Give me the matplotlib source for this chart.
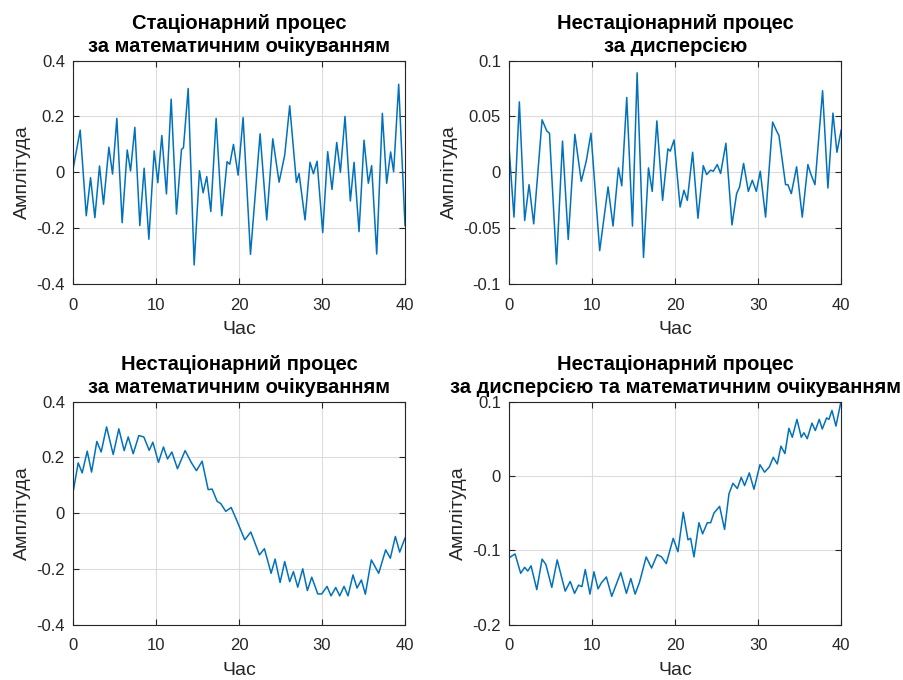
import matplotlib
matplotlib.use('Agg')
import matplotlib.pyplot as plt

# stationary process
t_stat = [0, 0.84, 1.57, 2.09, 2.61, 3.17, 3.65, 4.30, 4.74, 5.26, 5.90, 6.51, 6.91, 7.43, 8.03, 8.55, 9.12, 9.76,
          10.20, 10.68, 11.24, 11.81, 12.45, 13.05, 13.29, 13.86, 14.58, 15.22, 15.66, 16.10, 16.59, 17.23, 17.91,
          18.55, 18.88, 19.32, 19.88, 20.48, 21.37, 22.53, 23.33, 24.06, 24.82, 25.5, 26.10, 26.91, 27.23, 27.95,
          28.55, 28.96, 29.40, 30.08, 30.68, 31.20, 31.77, 32.21, 32.77, 33.41, 33.86, 34.46, 35.06, 35.58, 35.98,
          36.59, 37.27, 37.79, 38.27, 38.63, 39.24, 40]
a_stat = [0.015, 0.151, -0.155, -0.019, -0.162, 0.023, -0.114, 0.090, -0.006, 0.193, -0.180, 0.080, 0.005, 0.161,
          -0.190, 0.015, -0.239, 0.077, -0.037, 0.132, -0.077, 0.262, -0.149, 0.082, 0.088, 0.300, -0.331, 0.006,
          -0.073, -0.015, -0.140, 0.193, -0.155, 0.038, 0.029, 0.100, -0.010, 0.196, -0.293, 0.138, -0.170, 0.120,
          -0.035, 0.062, 0.238, -0.036, -0.004, -0.170, 0.036, -0.005, 0.040, -0.215, 0.074, -0.061, 0.107, 0.0,
          0.200, -0.102, 0.036, -0.212, 0.115, -0.039, 0.024, -0.292, 0.211, -0.039, 0.073, 0.002, 0.315, -0.19]

# non-stationary in variance
t_var = [0, 0.56, 1.21, 1.85, 2.38, 2.94, 3.95, 4.52, 4.84, 5.69, 6.41, 7.10, 7.90, 8.67, 9.27, 9.84, 10.89, 11.90,
         12.50, 13.15, 13.55, 14.15, 14.84, 15.40, 16.17, 16.77, 17.22, 17.78, 18.47, 19.11, 19.40, 19.85, 20.58,
         21.04, 21.45, 22.09, 22.73, 23.37, 23.78, 24.26, 24.58, 25.06, 25.46, 26.10, 26.83, 27.39, 27.75, 28.23,
         28.80, 29.28, 29.76, 30.24, 30.88, 31.73, 32.21, 32.49, 33.29, 33.57, 33.98, 34.62, 35.30, 35.98, 36.31,
         36.83, 37.75, 38.39, 39.00, 39.48, 40]
a_var = [0.019, -0.040, 0.063, -0.043, -0.011, -0.046, 0.047, 0.037, 0.035, -0.082, 0.028, -0.060, 0.034, -0.008,
         0.010, 0.035, -0.070, -0.013, -0.048, 0.004, -0.012, 0.067, -0.048, 0.089, -0.076, 0.004, -0.017, 0.046,
         -0.025, 0.021, 0.019, 0.029, -0.031, -0.016, -0.025, 0.018, -0.041, 0.006, -0.002, 0.002, 0.001, 0.007,
         -0.001, 0.026, -0.047, -0.019, -0.013, 0.008, -0.017, -0.007, -0.017, 0.001, -0.040, 0.045, 0.037, 0.033,
         -0.011, -0.011, -0.019, 0.005, -0.040, 0.007, -0.001, -0.011, 0.073, -0.014, 0.053, 0.018, 0.038]

# non-stationary in mean
t_mean = [0, 0.60, 1.08, 1.69, 2.21, 2.85, 3.37, 4.02, 4.82, 5.50, 6.14, 6.63, 7.23, 7.91, 8.51, 9.16, 9.60, 10.28,
          10.88, 11.37, 11.89, 12.57, 13.49, 14.26, 14.86, 15.54, 16.27, 16.75, 17.35, 17.79, 18.39, 19.04, 19.60,
          20.68, 21.41, 22.45, 23.05, 23.86, 24.34, 24.94, 25.50, 26.10, 26.55, 27.07, 27.67, 28.23, 28.76, 29.48,
          29.96, 30.60, 31.08, 31.65, 32.13, 32.65, 33.13, 33.73, 34.22, 34.74, 35.22, 35.94, 36.83, 37.67, 38.23,
          38.84, 39.36, 40]
a_mean = [0.078, 0.180, 0.144, 0.222, 0.147, 0.257, 0.219, 0.309, 0.210, 0.302, 0.224, 0.273, 0.213, 0.278, 0.273,
          0.225, 0.254, 0.182, 0.237, 0.194, 0.219, 0.159, 0.224, 0.180, 0.152, 0.186, 0.084, 0.086, 0.042, 0.034,
          0.006, 0.020, -0.018, -0.096, -0.068, -0.150, -0.128, -0.216, -0.165, -0.249, -0.174, -0.246, -0.210,
          -0.266, -0.200, -0.278, -0.230, -0.290, -0.290, -0.263, -0.297, -0.267, -0.297, -0.263, -0.297, -0.222,
          -0.269, -0.240, -0.291, -0.168, -0.216, -0.132, -0.162, -0.084, -0.140, -0.09]

# non-stationary in both variance and mean
t_both = [0, 0.69, 1.37, 1.85, 2.22, 2.62, 3.31, 3.95, 4.40, 5.12, 5.77, 6.73, 7.34, 7.86, 8.35, 8.75, 9.15, 9.72,
          10.20, 10.69, 11.09, 11.69, 12.34, 13.43, 14.11, 14.64, 15.16, 15.69, 16.49, 17.14, 17.82, 18.35, 18.91,
          19.75, 20.32, 20.96, 21.53, 21.85, 22.25, 22.85, 23.29, 23.86, 24.26, 24.66, 25.34, 25.94, 26.47, 26.95,
          27.47, 27.95, 28.35, 28.92, 29.48, 30.20, 30.76, 31.33, 31.81, 32.29, 32.73, 33.21, 33.69, 34.10, 34.66,
          35.18, 35.50, 35.90, 36.47, 36.87, 37.35, 37.71, 38.23, 38.51, 38.88, 39.36, 40]
a_both = [-0.110, -0.105, -0.131, -0.123, -0.128, -0.121, -0.153, -0.112, -0.119, -0.150, -0.113, -0.155, -0.142,
          -0.158, -0.147, -0.149, -0.126, -0.159, -0.129, -0.152, -0.144, -0.136, -0.162, -0.130, -0.158, -0.138,
          -0.159, -0.143, -0.109, -0.124, -0.106, -0.109, -0.118, -0.084, -0.102, -0.049, -0.086, -0.084, -0.109,
          -0.063, -0.078, -0.063, -0.063, -0.050, -0.041, -0.072, -0.024, -0.010, -0.017, -0.002, -0.013, 0.004,
          -0.018, 0.015, 0.005, 0.012, 0.025, 0.016, 0.040, 0.030, 0.064, 0.052, 0.076, 0.052, 0.058, 0.050, 0.071,
          0.061, 0.076, 0.063, 0.078, 0.076, 0.088, 0.067, 0.102]

titles = ['Стаціонарний процес\nза математичним очікуванням',
          'Нестаціонарний процес\nза дисперсією',
          'Нестаціонарний процес\nза математичним очікуванням',
          'Нестаціонарний процес\nза дисперсією та математичним очікуванням']
yticks = [[-0.4, -0.2, 0, 0.2, 0.4],
          [-0.1, -0.05, 0, 0.05, 0.1],
          [-0.4, -0.2, 0, 0.2, 0.4],
          [-0.2, -0.1, 0, 0.1]]
xticks = [0, 10, 20, 30, 40]

plt.rcParams['font.family'] = ['Liberation Sans', 'DejaVu Sans']
plt.rcParams['axes.unicode_minus'] = False

fig = plt.figure(figsize=(9.04, 6.8), dpi=100)
boxes = [[0.081, 0.582, 0.367, 0.329],
         [0.5634, 0.582, 0.3672, 0.329],
         [0.081, 0.0815, 0.367, 0.328],
         [0.5634, 0.0815, 0.3672, 0.328]]
series = [(t_stat, a_stat), (t_var, a_var), (t_mean, a_mean), (t_both, a_both)]

edge = '#262626'
for box, (t, a), title, yt in zip(boxes, series, titles, yticks):
    ax = fig.add_axes(box)
    ax.plot(t, a, color='#0072BD', lw=1.1, solid_joinstyle='round')
    ax.set_xlim(0, 40)
    ax.set_ylim(yt[0], yt[-1])
    ax.set_xticks(xticks)
    ax.set_yticks(yt)
    ax.set_yticklabels(['%g' % v for v in yt])
    ax.grid(True, color='#dcdcdc', lw=0.8)
    ax.set_axisbelow(True)
    for s in ax.spines.values():
        s.set_color(edge)
        s.set_linewidth(0.8)
    ax.tick_params(direction='in', top=True, right=True, length=4, width=0.8,
                   color=edge, labelcolor=edge, labelsize=12)
    ax.tick_params(axis='x', pad=10)
    ax.tick_params(axis='y', pad=6)
    ax.set_xlabel('Час', fontsize=14, color=edge, labelpad=6)
    ax.set_ylabel('Амплітуда', fontsize=14, color=edge, labelpad=4)
    ax.set_title(title, fontsize=14.5, fontweight='bold', color='black', pad=6, linespacing=1.3)

fig.savefig('out.png', dpi=100)
